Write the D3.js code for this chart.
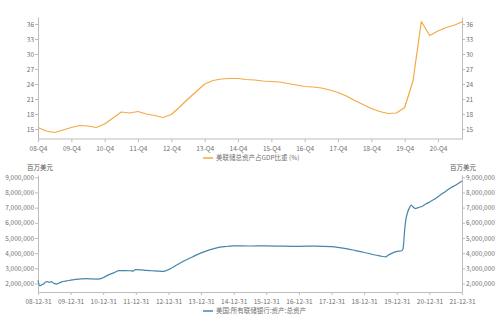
<!DOCTYPE html>
<html>
<head>
<meta charset="utf-8">
<script src="https://cdn.jsdelivr.net/npm/d3@7"></script>
<style>
  body { margin: 0; background: #fff; }
  svg { display: block; }
</style>
</head>
<body>
<div id="chart"></div>
<script>
// top chart: quarterly ratio
const quarters = [
  "08-Q4",
  "09-Q1", "09-Q2", "09-Q3", "09-Q4",
  "10-Q1", "10-Q2", "10-Q3", "10-Q4",
  "11-Q1", "11-Q2", "11-Q3", "11-Q4",
  "12-Q1", "12-Q2", "12-Q3", "12-Q4",
  "13-Q1", "13-Q2", "13-Q3", "13-Q4",
  "14-Q1", "14-Q2", "14-Q3", "14-Q4",
  "15-Q1", "15-Q2", "15-Q3", "15-Q4",
  "16-Q1", "16-Q2", "16-Q3", "16-Q4",
  "17-Q1", "17-Q2", "17-Q3", "17-Q4",
  "18-Q1", "18-Q2", "18-Q3", "18-Q4",
  "19-Q1", "19-Q2", "19-Q3", "19-Q4",
  "20-Q1", "20-Q2", "20-Q3", "20-Q4",
  "21-Q1", "21-Q2", "21-Q3"
];
const gdpRatio = [
  15.3,
  14.6, 14.3, 14.8, 15.3,
  15.7, 15.6, 15.3, 16.0,
  17.2, 18.4, 18.2, 18.5,
  18.0, 17.7, 17.3, 17.9,
  19.4, 21.0, 22.5, 24.0,
  24.7, 25.0, 25.1, 25.1,
  24.9, 24.8, 24.6, 24.5,
  24.4, 24.1, 23.8, 23.5,
  23.4, 23.2, 22.8, 22.3,
  21.6, 20.7, 19.9, 19.1,
  18.5, 18.1, 18.2, 19.3,
  24.6, 36.5, 33.7, 34.6,
  35.3, 35.8, 36.5
];
const quarterTicks = ["08-Q4", "09-Q4", "10-Q4", "11-Q4", "12-Q4", "13-Q4", "14-Q4",
  "15-Q4", "16-Q4", "17-Q4", "18-Q4", "19-Q4", "20-Q4"];
const ratioTicks = [15, 18, 21, 24, 27, 30, 33, 36];

// bottom chart: total assets (millions USD)
const assetDates = [
  "2008-12-31", "2009-01-21", "2009-02-11", "2009-03-04", "2009-03-25", "2009-04-15",
  "2009-05-06", "2009-05-27", "2009-06-17", "2009-07-08", "2009-07-29", "2009-08-19",
  "2009-09-16", "2009-10-21", "2009-11-18", "2009-12-30", "2010-02-24", "2010-04-28",
  "2010-06-30", "2010-08-25", "2010-10-27", "2010-11-24", "2010-12-29", "2011-02-23",
  "2011-04-27", "2011-06-29", "2011-08-31", "2011-10-26", "2011-11-30", "2011-12-28",
  "2012-02-29", "2012-04-25", "2012-06-27", "2012-08-29", "2012-10-31", "2012-12-26",
  "2013-03-27", "2013-06-26", "2013-09-25", "2013-12-25", "2014-03-26", "2014-06-25",
  "2014-09-24", "2014-12-31", "2015-06-24", "2015-12-30", "2016-06-29", "2016-12-28",
  "2017-06-28", "2017-12-27", "2018-03-28", "2018-06-27", "2018-09-26", "2018-12-26",
  "2019-03-27", "2019-06-26", "2019-08-28", "2019-09-25", "2019-10-30", "2019-12-25",
  "2020-02-26", "2020-03-11", "2020-03-18", "2020-03-25", "2020-04-08", "2020-04-29",
  "2020-05-27", "2020-06-10", "2020-06-24", "2020-07-29", "2020-08-26", "2020-09-30",
  "2020-10-28", "2020-11-25", "2020-12-30", "2021-02-24", "2021-04-28", "2021-06-30",
  "2021-08-25", "2021-10-27", "2021-12-29"
];
const totalAssets = [
  2200000, 1850000, 1920000, 1970000, 2100000, 2130000,
  2080000, 2120000, 2050000, 1990000, 1960000, 2020000,
  2090000, 2150000, 2170000, 2220000, 2270000, 2310000,
  2320000, 2300000, 2290000, 2300000, 2380000, 2550000,
  2700000, 2850000, 2850000, 2840000, 2820000, 2920000,
  2900000, 2860000, 2840000, 2820000, 2800000, 2900000,
  3200000, 3500000, 3750000, 4000000, 4200000, 4350000,
  4430000, 4480000, 4470000, 4480000, 4460000, 4450000,
  4460000, 4430000, 4370000, 4280000, 4170000, 4060000,
  3930000, 3820000, 3760000, 3860000, 3970000, 4100000,
  4160000, 4300000, 4670000, 5250000, 6080000, 6660000,
  7050000, 7170000, 7090000, 6940000, 7000000, 7060000,
  7150000, 7250000, 7360000, 7550000, 7820000, 8070000,
  8300000, 8500000, 8760000
];
const yearTicks = ["2008-12-31", "2009-12-31", "2010-12-31", "2011-12-31", "2012-12-31",
  "2013-12-31", "2014-12-31", "2015-12-31", "2016-12-31", "2017-12-31", "2018-12-31",
  "2019-12-31", "2020-12-31", "2021-12-31"];
const assetTicks = [2000000, 3000000, 4000000, 5000000, 6000000, 7000000, 8000000, 9000000];

const parseDate = d3.timeParse("%Y-%m-%d");
const formatDate = d3.timeFormat("%y-%m-%d");
const numberFormat = d3.format(",");

const width = 500, height = 317;
const left = 38, right = 462;
const font = "'Noto Sans CJK SC', 'Noto Sans', sans-serif";
const axisColor = "#bdbdbd", textColor = "#707070";
const orange = "#f5a845", blue = "#4585ab";

const svg = d3.select("#chart").append("svg")
  .attr("width", width)
  .attr("height", height)
  .style("background-color", "white");

function styleAxis(g) {
  g.attr("font-family", font).attr("font-size", 6.5);
  g.selectAll(".domain, line").attr("stroke", axisColor);
  g.selectAll("text").attr("fill", textColor);
}

// ---- top chart ----
const top1 = 17, bottom1 = 139;
const xQ = d3.scalePoint().domain(quarters).range([left, 463]);
const yR = d3.scaleLinear().domain([13, 37.4]).range([bottom1, top1]);

svg.append("g")
  .attr("transform", `translate(0,${bottom1})`)
  .call(d3.axisBottom(xQ).tickValues(quarterTicks).tickSize(3).tickSizeOuter(0))
  .call((g) => g.select(".domain").attr("d", `M${left},0H${right}`))
  .call((g) => g.selectAll("text").attr("dy", "0.9em"))
  .call(styleAxis);

svg.append("g")
  .attr("transform", `translate(${left},0)`)
  .call(d3.axisLeft(yR).tickValues(ratioTicks).tickSize(3).tickSizeOuter(0).tickPadding(1))
  .call(styleAxis);

svg.append("g")
  .attr("transform", `translate(${right},0)`)
  .call(d3.axisRight(yR).tickValues(ratioTicks).tickSize(3).tickSizeOuter(0).tickPadding(1))
  .call(styleAxis);

const lineQ = d3.line()
  .x((d, i) => xQ(quarters[i]))
  .y((d) => yR(d));

svg.append("path")
  .attr("d", lineQ(gdpRatio))
  .attr("fill", "none")
  .attr("stroke", orange)
  .attr("stroke-width", 1.2)
  .attr("stroke-linejoin", "round");

// legend top
const leg1 = svg.append("g").attr("transform", "translate(203,158)");
leg1.append("line").attr("x1", 0).attr("x2", 10).attr("stroke", orange).attr("stroke-width", 1.5);
leg1.append("text").attr("x", 13).attr("dy", "0.35em")
  .attr("font-family", font).attr("font-size", 6.5).attr("fill", textColor)
  .text("美联储总资产占GDP比重 (%)");

// ---- bottom chart ----
const top2 = 175, bottom2 = 292;
const xT = d3.scaleTime()
  .domain([parseDate("2008-12-31"), parseDate("2021-12-31")])
  .range([left, right]);
const yA = d3.scaleLinear().domain([1440000, 9150000]).range([bottom2, top2]);

svg.append("g")
  .attr("transform", `translate(0,${bottom2})`)
  .call(d3.axisBottom(xT).tickValues(yearTicks.map(parseDate)).tickFormat(formatDate)
    .tickSize(3).tickSizeOuter(0))
  .call((g) => g.selectAll("text").attr("dy", "0.9em"))
  .call(styleAxis);

svg.append("g")
  .attr("transform", `translate(${left},0)`)
  .call(d3.axisLeft(yA).tickValues(assetTicks).tickFormat(numberFormat)
    .tickSize(3).tickSizeOuter(0).tickPadding(1))
  .call(styleAxis);

svg.append("g")
  .attr("transform", `translate(${right},0)`)
  .call(d3.axisRight(yA).tickValues(assetTicks).tickFormat(numberFormat)
    .tickSize(3).tickSizeOuter(0).tickPadding(1))
  .call(styleAxis);

const lineT = d3.line()
  .x((d, i) => xT(parseDate(assetDates[i])))
  .y((d) => yA(d))
  .curve(d3.curveMonotoneX);

svg.append("path")
  .attr("d", lineT(totalAssets))
  .attr("fill", "none")
  .attr("stroke", blue)
  .attr("stroke-width", 1.2);

// unit labels
svg.append("text").attr("x", 27).attr("y", 170)
  .attr("font-family", font).attr("font-size", 6.5).attr("fill", "#555")
  .text("百万美元");
svg.append("text").attr("x", 450).attr("y", 170)
  .attr("font-family", font).attr("font-size", 6.5).attr("fill", "#555")
  .text("百万美元");

// legend bottom
const leg2 = svg.append("g").attr("transform", "translate(203,311)");
leg2.append("line").attr("x1", 0).attr("x2", 10).attr("stroke", blue).attr("stroke-width", 1.5);
leg2.append("text").attr("x", 13).attr("dy", "0.35em")
  .attr("font-family", font).attr("font-size", 6.5).attr("fill", textColor)
  .text("美国:所有联储银行:资产:总资产");
</script>
</body>
</html>
